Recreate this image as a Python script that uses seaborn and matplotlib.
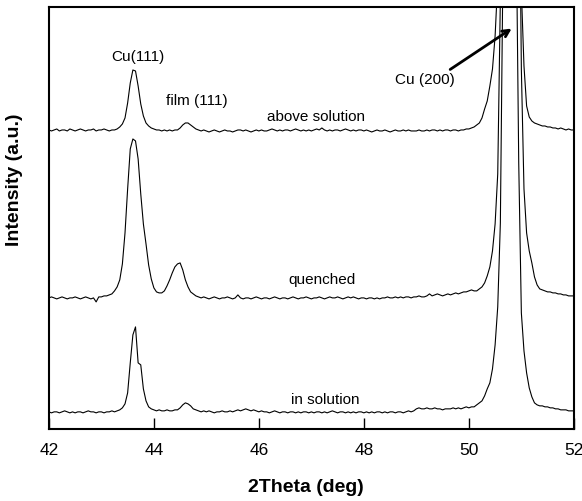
import numpy as np
import matplotlib
matplotlib.use("Agg")
import matplotlib.pyplot as plt
import seaborn as sns

# scan grid, 0.05 deg step
two_theta = np.linspace(42, 52, 201)

# relative intensities (one row per degree)
in_solution = [
    1, 0, 1, 1, 0, 1, 2, 1, 0, 1, 0, 1, 1, 0, 1, 2, 1, 1, 0, 1,
    1, 0, 1, 1, 2, 1, 2, 3, 5, 9, 20, 50, 78, 86, 50, 48, 24, 12, 6, 4,
    3, 2, 3, 2, 2, 3, 2, 2, 3, 3, 5, 8, 10, 9, 7, 4, 3, 2, 1, 2,
    1, 2, 1, 0, 1, 1, 2, 1, 1, 2, 1, 2, 3, 2, 3, 4, 3, 2, 3, 2,
    1, 2, 1, 1, 0, 1, 2, 1, 0, 1, 1, 0, 1, 1, 0, 1, 0, 1, 1, 0,
    1, 0, 1, 1, 0, 1, 0, 1, 2, 1, 0, 1, 1, 0, 1, 0, 1, 0, 1, 1,
    0, 1, 0, 1, 0, 1, 1, 0, 1, 0, 1, 1, 0, 1, 1, 0, 1, 2, 1, 2,
    4, 5, 4, 4, 5, 4, 4, 5, 4, 4, 3, 4, 4, 4, 5, 4, 5, 4, 5, 6,
    5, 6, 6, 8, 10, 12, 17, 24, 30, 44, 68, 106, 190, 450, 2000, 3000, 3000, 2000, 500, 250,
    100, 62, 40, 25, 16, 10, 8, 7, 7, 6, 6, 5, 5, 4, 4, 3, 3, 3, 2, 2,
    2,
]
quenched = [
    1, 2, 1, 0, 1, 2, 1, 0, 1, 1, 2, 1, 0, 1, 2, 1, 0, 1, -3, 2,
    2, 3, 3, 4, 5, 8, 12, 19, 35, 66, 110, 150, 160, 158, 140, 105, 75, 55, 34, 20,
    11, 7, 6, 6, 8, 13, 19, 26, 32, 35, 36, 29, 19, 12, 7, 5, 3, 2, 1, 2,
    1, 0, 1, 2, 1, 0, 1, 1, 2, 1, 0, 1, 4, 1, 0, 1, 1, 0, 1, 2,
    1, 0, 1, 1, 0, 1, 2, 1, 0, 1, 1, 0, 1, 2, 1, 0, 1, 1, 2, 1,
    0, 1, 1, 2, 1, 0, 1, 2, 1, 1, 2, 1, 0, 1, 2, 1, 2, 1, 0, 1,
    1, 0, 1, 1, 0, 1, 0, 1, 1, 2, 1, 1, 2, 1, 2, 1, 2, 2, 1, 2,
    2, 3, 2, 2, 3, 5, 3, 4, 5, 4, 3, 4, 5, 4, 5, 6, 5, 6, 7, 7,
    8, 9, 8, 8, 10, 12, 16, 23, 32, 48, 75, 125, 300, 1000, 2500, 3000, 3000, 2500, 1200, 500,
    230, 110, 66, 48, 36, 22, 14, 10, 9, 8, 7, 7, 6, 6, 5, 5, 4, 4, 3, 3,
    3,
]
above_solution = [
    1, 0, 1, 2, 0, 1, 1, 0, 2, 1, 0, 1, 2, 1, 0, 1, 1, 2, 0, 1,
    1, 2, 1, 0, 1, 1, 2, 4, 7, 13, 28, 48, 61, 60, 45, 27, 15, 8, 5, 3,
    2, 1, 1, 0, 1, 0, 1, 0, 1, 1, 3, 6, 8, 8, 6, 4, 2, 1, 0, 1,
    0, -1, 0, 1, 0, -1, 0, 1, 0, 0, -1, 0, 1, 1, 0, 1, 0, -1, 0, 1,
    0, 1, 0, 0, 1, 2, 1, 0, 1, 0, 1, 1, 0, 1, 2, 1, 0, 1, 0, 1,
    0, 1, 2, 1, 3, 1, 0, 1, 0, 1, 1, 0, 1, 2, 1, 0, 1, 0, 1, 1,
    0, 1, 0, -1, 0, 1, 0, 0, 1, 0, -1, 0, 1, 0, 0, 1, 0, 1, 0, 0,
    0, 1, 0, 0, 1, 0, 1, 1, 0, 1, 0, 1, 1, 0, 1, 1, 0, 1, 1, 2,
    2, 3, 4, 6, 8, 13, 22, 30, 45, 62, 95, 150, 400, 1000, 2000, 2500, 2500, 2000, 1000, 400,
    140, 65, 25, 14, 10, 8, 7, 6, 5, 5, 4, 4, 3, 3, 2, 3, 2, 1, 2, 1,
    1,
]

traces = [in_solution, quenched, above_solution]
offsets = [16, 130, 298]
trace_labels = ["in solution", "quenched", "above solution"]
label_x = [47.26, 47.2, 47.09]
label_y = [29, 149, 312]

sns.set_theme(style="white")
plt.rcParams["font.family"] = ["Liberation Sans", "DejaVu Sans"]
plt.rcParams["text.color"] = "black"

fig = plt.figure(figsize=(5.82, 5.01), dpi=100)
ax = fig.add_axes([0.084, 0.144, 0.902, 0.842])

for vals, off in zip(traces, offsets):
    sns.lineplot(x=two_theta, y=np.array(vals, dtype=float) + off, ax=ax,
                 color="black", lw=0.8, estimator=None)

for txt, tx, ty in zip(trace_labels, label_x, label_y):
    ax.text(tx, ty, txt, ha="center", va="center", fontsize=11, color="black")

ax.text(43.7, 372, "Cu(111)", ha="center", va="center", fontsize=11, color="black")
ax.text(44.82, 328, "film (111)", ha="center", va="center", fontsize=11, color="black")
ax.text(49.16, 349, "Cu (200)", ha="center", va="center", fontsize=11, color="black")
ax.annotate("", xy=(50.86, 402), xytext=(49.6, 358),
            arrowprops=dict(arrowstyle="->", lw=2, color="black"))

ax.set_xlim(42, 52)
ax.set_ylim(0, 422)
ax.set_xticks([42, 44, 46, 48, 50, 52])
ax.set_yticks([])
ax.tick_params(axis="x", direction="in", length=8, width=1, labelsize=12.5,
               pad=10, colors="black", labelcolor="black", bottom=True)
for sp in ax.spines.values():
    sp.set_color("black")
    sp.set_linewidth(1.5)

ax.set_xlabel("2Theta (deg)", fontsize=14, fontweight="bold", color="black")
ax.set_ylabel("Intensity (a.u.)", fontsize=14, fontweight="bold", color="black")
ax.xaxis.set_label_coords(0.49, -0.118)
ax.yaxis.set_label_coords(-0.05, 0.59)

fig.savefig("out.png", dpi=100)
